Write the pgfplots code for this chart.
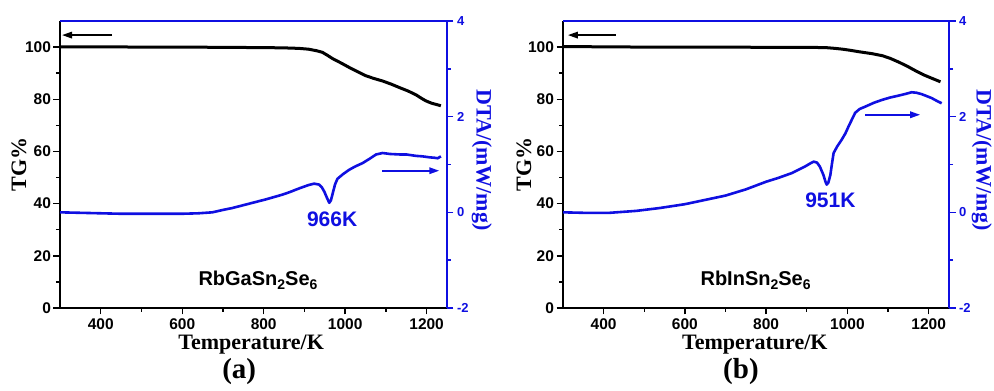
\documentclass[border=0pt]{standalone}
\usepackage{fontspec}
\setmainfont{Liberation Serif}
\setsansfont{Liberation Sans}
\usepackage{pgfplots}
\pgfplotsset{compat=1.18}
\usetikzlibrary{arrows.meta}
\definecolor{dtablue}{RGB}{15,15,225}
\newcommand{\sub}[1]{\raisebox{-0.45ex}{\fontsize{14}{14}\selectfont #1}}

\pgfplotstableread{
T TG
300 100.1
400 100.1
500 100.0
600 100.0
700 99.9
800 99.8
850 99.7
887 99.5
910 99.2
930 98.6
944 98.0
956 96.9
969 95.6
990 93.9
1010 92.2
1030 90.6
1051 89.0
1070 88.0
1092 87.0
1113 85.8
1133 84.5
1154 83.2
1174 81.7
1188 80.3
1198 79.4
1212 78.5
1231 77.7
1235 77.5
}\tga

\pgfplotstableread{
T DTA
300 0.00
350 -0.01
400 -0.02
450 -0.03
500 -0.03
550 -0.03
600 -0.03
640 -0.02
674 0.00
700 0.05
723 0.09
764 0.18
805 0.27
846 0.37
863 0.42
887 0.50
910 0.57
924 0.60
936 0.58
943 0.52
949 0.43
955 0.31
961 0.20
965 0.25
969 0.38
975 0.58
981 0.70
995 0.80
1010 0.89
1025 0.96
1043 1.03
1060 1.12
1076 1.21
1092 1.24
1110 1.22
1133 1.21
1150 1.21
1174 1.18
1190 1.17
1207 1.15
1220 1.14
1227 1.13
1235 1.17
}\dtaa

\pgfplotstableread{
T TG
300 100.2
400 100.1
500 100.0
600 100.0
700 100.0
800 99.9
900 99.9
947 99.8
970 99.5
988 99.2
1010 98.7
1029 98.2
1060 97.5
1086 96.7
1105 95.7
1127 94.2
1148 92.6
1168 90.9
1190 89.2
1210 87.9
1229 86.7
}\tgb

\pgfplotstableread{
T DTA
300 0.00
350 -0.01
415 -0.01
480 0.03
538 0.09
600 0.17
650 0.26
700 0.35
750 0.48
800 0.64
830 0.72
863 0.82
896 0.96
910 1.03
917 1.06
925 1.04
932 0.96
941 0.78
946 0.64
949 0.58
953 0.62
958 0.78
962 1.02
966 1.24
975 1.38
986 1.52
995 1.65
1003 1.80
1011 1.94
1019 2.08
1030 2.16
1044 2.21
1065 2.29
1085 2.35
1105 2.40
1126 2.44
1145 2.48
1158 2.51
1170 2.50
1183 2.47
1195 2.43
1207 2.39
1220 2.33
1232 2.28
}\dtab

\pgfplotsset{
  common/.style={
    scale only axis, height=287pt,
    xmin=300, xmax=1250,
    tick align=outside,
    major tick length=6.5pt, minor tick length=4pt,
    /pgf/number format/assume math mode=true,
    /pgf/number format/1000 sep={},
    clip=false,
  },
  tgaxis/.style={
    common,
    ymin=0, ymax=110,
    axis x line*=bottom, axis y line*=left,
    xtick={400,600,...,1200}, minor x tick num=1,
    ytick={0,20,...,100}, minor y tick num=1,
    axis line style={black, line width=1.8pt},
    tick style={black, line width=1.4pt},
    tick label style={font=\sffamily\bfseries\fontsize{15.5}{15.5}\selectfont},
    xticklabel style={yshift=-1pt},
    yticklabel style={xshift=1pt},
    label style={font=\rmfamily\bfseries\fontsize{22}{22}\selectfont},
  },
  dtaaxis/.style={
    common,
    ymin=-2, ymax=4,
    axis x line*=top, axis y line*=right,
    xtick=\empty,
    ytick={-2,0,2,4}, minor y tick num=1,
    axis line style={dtablue, line width=1.8pt},
    tick style={dtablue, line width=1.4pt},
    yticklabel style={dtablue, font=\sffamily\bfseries\fontsize{13}{13}\selectfont},
    label style={dtablue, font=\rmfamily\bfseries\fontsize{22}{22}\selectfont},
  },
}

\begin{document}
\begin{tikzpicture}[x=1pt,y=1pt]
\path[use as bounding box] (0,0) rectangle (994,391);

% ---------- panel (a) ----------
\begin{axis}[tgaxis, width=387pt, at={(60pt,83pt)}, anchor=south west,
  xlabel={Temperature/K}, ylabel={TG\%},
  xlabel style={at={(axis description cs:0.494,-0.129)}, anchor=center},
  ylabel style={at={(axis description cs:-0.106,0.5)}, anchor=center}]
\addplot[black, line width=3pt, line join=round] table[x=T,y=TG] {\tga};
\draw[-{Triangle[length=10pt,width=6.5pt]}, line width=1.7pt] (axis cs:428,104.6) -- (axis cs:305,104.6);
\node[anchor=base, font=\sffamily\bfseries\fontsize{20}{20}\selectfont] at (axis cs:786,8.8) {RbGaSn\sub{2}Se\sub{6}};
\node[font=\rmfamily\bfseries\fontsize{29}{29}\selectfont] at (axis description cs:0.463,-0.223) {(a)};
\end{axis}
\begin{axis}[dtaaxis, width=387pt, at={(60pt,83pt)}, anchor=south west,
  ylabel={DTA/(mW/mg)},
  ylabel style={at={(axis description cs:1.090,0.516)}, anchor=center, rotate=180}]
\addplot[dtablue, line width=2.6pt, line join=round] table[x=T,y=DTA] {\dtaa};
\draw[dtablue, -{Triangle[length=10pt,width=6.5pt]}, line width=1.7pt] (axis cs:1091,0.87) -- (axis cs:1231,0.87);
\node[dtablue, font=\sffamily\bfseries\fontsize{21}{21}\selectfont] at (axis cs:968,-0.14) {966K};
\end{axis}

% ---------- panel (b) ----------
\begin{axis}[tgaxis, width=386pt, at={(563pt,83pt)}, anchor=south west,
  xlabel={Temperature/K}, ylabel={TG\%},
  xlabel style={at={(axis description cs:0.497,-0.129)}, anchor=center},
  ylabel style={at={(axis description cs:-0.101,0.5)}, anchor=center}]
\addplot[black, line width=3pt, line join=round] table[x=T,y=TG] {\tgb};
\draw[-{Triangle[length=10pt,width=6.5pt]}, line width=1.7pt] (axis cs:430,104.6) -- (axis cs:312,104.6);
\node[anchor=base, font=\sffamily\bfseries\fontsize{20}{20}\selectfont] at (axis cs:774,8.8) {RbInSn\sub{2}Se\sub{6}};
\node[font=\rmfamily\bfseries\fontsize{29}{29}\selectfont] at (axis description cs:0.461,-0.223) {(b)};
\end{axis}
\begin{axis}[dtaaxis, width=386pt, at={(563pt,83pt)}, anchor=south west,
  ylabel={DTA/(mW/mg)},
  ylabel style={at={(axis description cs:1.085,0.516)}, anchor=center, rotate=180}]
\addplot[dtablue, line width=2.6pt, line join=round] table[x=T,y=DTA] {\dtab};
\draw[dtablue, -{Triangle[length=10pt,width=6.5pt]}, line width=1.7pt] (axis cs:1044,2.04) -- (axis cs:1179,2.04);
\node[dtablue, font=\sffamily\bfseries\fontsize{21}{21}\selectfont] at (axis cs:958,0.25) {951K};
\end{axis}
\end{tikzpicture}
\end{document}
